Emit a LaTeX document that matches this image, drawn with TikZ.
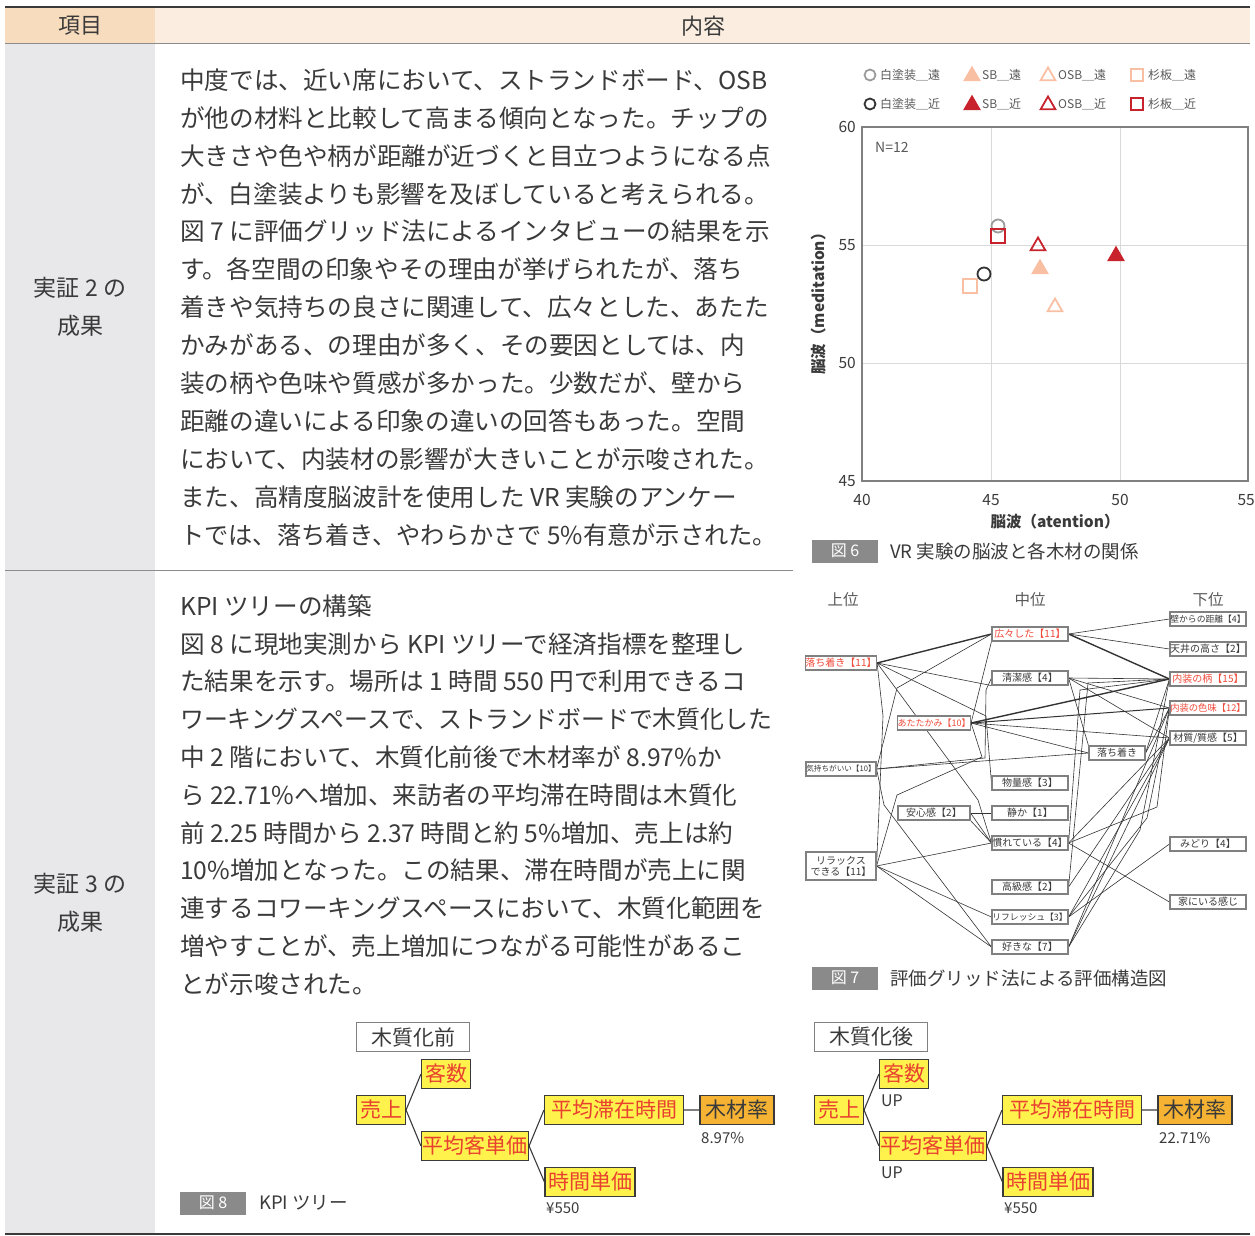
\documentclass[tikz,border=0pt]{standalone}
\usepackage{fontspec}
\setmainfont{Noto Sans CJK JP}
\usetikzlibrary{positioning, shapes.geometric, backgrounds}
\definecolor{headA}{HTML}{F8DCBE}
\definecolor{headB}{HTML}{FBEEE1}
\definecolor{sidegray}{HTML}{E8E8EA}
\definecolor{rulegray}{HTML}{8C8C8C}
\definecolor{textgray}{HTML}{3A3A3A}
\definecolor{leggray}{HTML}{595959}
\definecolor{capgray}{HTML}{8A8A8A}
\definecolor{gridgray}{HTML}{D9D9D9}
\definecolor{framegray}{HTML}{808080}
\definecolor{ptred}{HTML}{C8232C}
\definecolor{ptsalmon}{HTML}{F8BFA3}
\definecolor{ptgray}{HTML}{9B9B9B}
\definecolor{ptdark}{HTML}{333333}
\definecolor{hotred}{HTML}{F04A3A}
\definecolor{boxgray}{HTML}{808080}
\definecolor{kpiyellow}{HTML}{FFF24D}
\definecolor{kpired}{HTML}{E8412F}
\definecolor{kpiorange}{HTML}{F5B233}

\begin{document}
\begin{tikzpicture}[x=1pt, y=-1pt,
    bodyline/.style={anchor=west, inner sep=0, text=textgray, font=\fontsize{24.6}{30}\selectfont},
    rowlabel/.style={inner sep=0, text=textgray, font=\fontsize{23}{28}\selectfont},
    head/.style={inner sep=0, text=textgray, font=\fontsize{22}{26}\selectfont},
    figtag/.style={fill=capgray, text=white, minimum width=66, minimum height=23, inner sep=0, font=\fontsize{16}{18}\selectfont},
    figcap/.style={anchor=west, inner sep=0, text=textgray, font=\fontsize{18.5}{20}\selectfont},
    tick/.style={inner sep=0, text=textgray, font=\fontsize{15.5}{16}\selectfont},
    legtext/.style={anchor=west, inner sep=0, text=leggray, font=\fontsize{12}{13}\selectfont},
    ring/.style={circle, draw, line width=1.8, minimum size=11, inner sep=0},
    tri/.style={regular polygon, regular polygon sides=3, draw, line width=1.8, minimum size=17, inner sep=0},
    sq/.style={rectangle, draw, line width=1.8, minimum size=12, inner sep=0},
    level/.style={inner sep=0, text=leggray, font=\fontsize{15.5}{16}\selectfont},
    gbox/.style={draw=boxgray, line width=1.1, fill=white, minimum width=76, minimum height=14, inner sep=0, text=textgray, align=center, font=\fontsize{10}{11}\selectfont},
    hot/.style={text=hotred},
    link/.style={draw=ptdark, line width=0.6},
    kpi/.style={draw=textgray, line width=1.1, fill=kpiyellow, text=kpired, minimum width=#1, minimum height=29, inner sep=1, font=\fontsize{21}{22}\selectfont},
    rate/.style={kpi=#1, fill=kpiorange, text=textgray},
    tag/.style={draw=framegray, line width=1.1, fill=white, minimum width=113, minimum height=29, inner sep=0, text=textgray, font=\fontsize{21}{22}\selectfont},
    note/.style={anchor=west, inner sep=0, text=textgray, font=\fontsize{15}{16}\selectfont},
    branch/.style={draw=textgray, line width=1.1}
]
\useasboundingbox (0,0) rectangle (1255,1236);

% table frame
\fill[headA] (5,7) rectangle (155,44);
\fill[headB] (155,7) rectangle (1250,44);
\fill[sidegray] (5,44) rectangle (155,1234);
\draw[textgray, line width=1.2] (5,7) -- (1250,7);
\draw[rulegray, line width=1] (5,44) -- (1250,44);
\draw[rulegray, line width=1] (5,570) -- (793,570);
\draw[textgray, line width=1.2] (5,1234) -- (1250,1234);
\node[head] (hItem) at (80,26) {項目};
\node[head] (hBody) at (703,26) {内容};
\node[rowlabel] (r2a) at (80,288) {実証 2 の};
\node[rowlabel] (r2b) at (80,326) {成果};
\node[rowlabel] (r3a) at (80,884) {実証 3 の};
\node[rowlabel] (r3b) at (80,922) {成果};

% text of row 1
\foreach \t [count=\i] in {中度では、近い席において、ストランドボード、OSB,
    が他の材料と比較して高まる傾向となった。チップの,
    大きさや色や柄が距離が近づくと目立つようになる点,
    が、白塗装よりも影響を及ぼしていると考えられる。,
    図 7 に評価グリッド法によるインタビューの結果を示,
    す。各空間の印象やその理由が挙げられたが、落ち,
    着きや気持ちの良さに関連して、広々とした、あたた,
    かみがある、の理由が多く、その要因としては、内,
    装の柄や色味や質感が多かった。少数だが、壁から,
    距離の違いによる印象の違いの回答もあった。空間,
    において、内装材の影響が大きいことが示唆された。,
    また、高精度脳波計を使用した VR 実験のアンケー,
    \scalebox{0.985}[1]{トでは、落ち着き、やわらかさで 5\%有意が示された。}}
  \node[bodyline] (p1l\i) at (180,80+37.9*\i-37.9) {\t};

% text of row 2
\foreach \t [count=\i] in {KPI ツリーの構築,
    図 8 に現地実測から KPI ツリーで経済指標を整理し,
    た結果を示す。場所は 1 時間 550 円で利用できるコ,
    \scalebox{0.97}[1]{ワーキングスペースで、ストランドボードで木質化した},
    中 2 階において、木質化前後で木材率が 8.97\%か,
    ら 22.71\%へ増加、来訪者の平均滞在時間は木質化,
    前 2.25 時間から 2.37 時間と約 5\%増加、売上は約,
    10\%増加となった。この結果、滞在時間が売上に関,
    連するコワーキングスペースにおいて、木質化範囲を,
    増やすことが、売上増加につながる可能性があるこ,
    とが示唆された。}
  \node[bodyline] (p2l\i) at (180,606+37.8*\i-37.8) {\t};

% fig 6: scatter chart
\draw[gridgray, line width=1] (991,127) -- (991,481) (1120,127) -- (1120,481)
    (862,245) -- (1248,245) (862,363) -- (1248,363);
\draw[framegray, line width=1.4] (862,127) rectangle (1248,481);
\foreach \v/\y in {60/127, 55/245, 50/363, 45/481}
  \node[tick, anchor=east] (yt\v) at (856,\y) {\v};
\foreach \v/\x in {40/862, 45/991, 50/1120}
  \node[tick] (xt\v) at (\x,500) {\v};
\node[tick, anchor=east] (xt55) at (1255,500) {55};
\node[tick, font=\fontsize{15.5}{16}\selectfont\bfseries] (xTitle) at (1055,522) {脳波（atention）};
\node[tick, rotate=90, font=\fontsize{15.5}{16}\selectfont\bfseries] (yTitle) at (819,300) {脳波（meditation）};
\node[legtext, font=\fontsize{14}{15}\selectfont] (nCount) at (875,147) {N=12};

% legend
\node[ring, draw=ptgray] (lgWF) at (870,75) {};
\node[legtext] at (880,75) {白塗装＿遠};
\node[tri, fill=ptsalmon, draw=ptsalmon] (lgSF) at (972,76) {};
\node[legtext] at (982,75) {SB＿遠};
\node[tri, draw=ptsalmon] (lgOF) at (1048,76) {};
\node[legtext] at (1058,75) {OSB＿遠};
\node[sq, draw=ptsalmon] (lgCF) at (1137,75) {};
\node[legtext] at (1148,75) {杉板＿遠};
\node[ring, draw=ptdark] (lgWN) at (870,104) {};
\node[legtext] at (880,104) {白塗装＿近};
\node[tri, fill=ptred, draw=ptred] (lgSN) at (972,105) {};
\node[legtext] at (982,104) {SB＿近};
\node[tri, draw=ptred] (lgON) at (1048,105) {};
\node[legtext] at (1058,104) {OSB＿近};
\node[sq, draw=ptred] (lgCN) at (1137,104) {};
\node[legtext] at (1148,104) {杉板＿近};

% data points
\node[ring, minimum size=13, draw=ptgray] (wFar) at (998,226) {};
\node[sq, minimum size=14, draw=ptred] (cNear) at (998,236) {};
\node[ring, minimum size=13, draw=ptdark] (wNear) at (984,274) {};
\node[sq, minimum size=14, draw=ptsalmon] (cFar) at (970,286) {};
\node[tri, draw=ptred] (oNear) at (1038,246) {};
\node[tri, fill=ptsalmon, draw=ptsalmon] (sFar) at (1040,269) {};
\node[tri, draw=ptsalmon] (oFar) at (1055,307) {};
\node[tri, fill=ptred, draw=ptred] (sNear) at (1116,256) {};

\node[figtag] (tag6) at (845,551) {図 6};
\node[figcap] (cap6) at (890,551) {VR 実験の脳波と各木材の関係};

% fig 7: evaluation grid
\node[level] (lvTop) at (843,600) {上位};
\node[level] (lvMid) at (1030,600) {中位};
\node[level] (lvLow) at (1208,600) {下位};

\node[gbox, hot, minimum width=70] (ochiA) at (841,663) {落ち着き【11】};
\node[gbox, minimum width=70, font=\fontsize{7.6}{8}\selectfont] (kimochi) at (841,769) {気持ちがいい【10】};
\node[gbox, minimum width=70, minimum height=28] (relax) at (841,866) {リラックス\\できる【11】};
\node[gbox, hot, minimum width=72, font=\fontsize{9}{10}\selectfont] (atata) at (934,723) {あたたかみ【10】};
\node[gbox, minimum width=72] (anshin) at (934,813) {安心感【2】};

\node[gbox, hot] (hiro) at (1030,634) {広々した【11】};
\node[gbox] (seiketsu) at (1030,678) {清潔感【4】};
\node[gbox] (butsuryo) at (1030,783) {物量感【3】};
\node[gbox] (shizuka) at (1030,813) {静か【1】};
\node[gbox] (nare) at (1030,843) {慣れている【4】};
\node[gbox] (kokyu) at (1030,887) {高級感【2】};
\node[gbox, font=\fontsize{8.8}{9}\selectfont] (refresh) at (1030,917) {リフレッシュ【3】};
\node[gbox] (suki) at (1030,947) {好きな【7】};
\node[gbox, minimum width=56] (ochiB) at (1117,753) {落ち着き};

\node[gbox, font=\fontsize{8.8}{9}\selectfont] (kabe) at (1208,619) {壁からの距離【4】};
\node[gbox] (tenjo) at (1208,649) {天井の高さ【2】};
\node[gbox, hot] (gara) at (1208,679) {内装の柄【15】};
\node[gbox, hot, font=\fontsize{9.3}{10}\selectfont] (iromi) at (1208,708) {内装の色味【12】};
\node[gbox] (shitsu) at (1208,738) {材質/質感【5】};
\node[gbox] (midori) at (1208,844) {みどり【4】};
\node[gbox] (ie) at (1208,902) {家にいる感じ};

\begin{scope}[on background layer]
\draw[link, line width=1.4] (ochiA.east) -- (hiro.west);
\draw[link] (ochiA.east) -- (seiketsu.south west);
\draw[link] (ochiA.east) -- (986,716) -- (butsuryo.west);
\draw[link] (ochiA.east) -- (978,800) -- (nare.west);
\draw[link] (ochiA.east) -- (883,716) -- (relax.east);
\draw[link] (kimochi.east) -- (897,688) -- (hiro.west);
\draw[link] (kimochi.east) -- (985,758) -- (986,690) -- (seiketsu.west);
\draw[link] (kimochi.east) -- (884,805) -- (suki.west);
\draw[link] (kimochi.east) -- (ochiB.west);
\draw[link] (relax.east) -- (897,795) -- (982,757) -- (atata.east);
\draw[link] (relax.east) -- (nare.west);
\draw[link] (relax.east) -- (refresh.west);
\draw[link] (relax.east) -- (suki.west);
\draw[link] (anshin.east) -- (shizuka.west);
\draw[link] (anshin.east) -- (nare.west);
\draw[link] (anshin.south east) -- (nare.west);
\draw[link, line width=1.4] (atata.east) -- (gara.west);
\draw[link, line width=1] (atata.east) -- (iromi.west);
\draw[link] (atata.east) -- (shitsu.west);
\draw[link] (atata.east) -- (ochiB.west);
\draw[link] (atata.east) -- (hiro.south west);
\draw[link, line width=1.4] (hiro.east) -- (gara.west);
\draw[link] (hiro.east) -- (kabe.west);
\draw[link] (hiro.east) -- (tenjo.west);
\draw[link] (seiketsu.east) -- (gara.west);
\draw[link] (seiketsu.east) -- (iromi.west);
\draw[link] (seiketsu.east) -- (shitsu.west);
\draw[link] (seiketsu.east) -- (ochiB.north west);
\draw[link] (nare.east) -- (shitsu.west);
\draw[link] (nare.east) -- (1157,807) -- (iromi.west);
\draw[link] (nare.east) -- (ie.west);
\draw[link] (nare.east) -- (1080,690) -- (gara.west);
\draw[link] (kokyu.east) -- (1088,683) -- (gara.west);
\draw[link] (kokyu.east) -- (shitsu.west);
\draw[link] (refresh.east) -- (midori.west);
\draw[link] (refresh.east) -- (shitsu.west);
\draw[link] (refresh.east) -- (1147,818) -- (iromi.west);
\draw[link] (suki.east) -- (shitsu.west);
\draw[link] (suki.east) -- (1140,830) -- (gara.west);
\draw[link] (suki.east) -- (iromi.west);
\draw[link] (ochiB.east) -- (gara.west);
\draw[link] (ochiB.east) -- (iromi.west);
\end{scope}

\node[figtag] (tag7) at (845,978) {図 7};
\node[figcap] (cap7) at (890,978) {評価グリッド法による評価構造図};

% fig 8: KPI trees, before
\node[tag] (preTag) at (413,1037) {木質化前};
\node[kpi=49] (preSales) at (381,1110) {売上};
\node[kpi=49] (preGuests) at (446,1074) {客数};
\node[kpi=107] (preSpend) at (475,1146) {平均客単価};
\node[kpi=139] (preStay) at (614,1110) {平均滞在時間};
\node[rate=74] (preWood) at (737,1110) {木材率};
\node[kpi=90] (preHour) at (590,1182) {時間単価};
\node[note] (preRate) at (701,1138) {8.97\%};
\node[note] (prePrice) at (546,1208) {¥550};
\draw[branch] (preSales.east) -- (preGuests.west);
\draw[branch] (preSales.east) -- (preSpend.west);
\draw[branch] (preSpend.east) -- (preStay.west);
\draw[branch] (preSpend.east) -- (preHour.west);
\draw[branch, draw=framegray] (preStay.east) -- (preWood.west);

% fig 8: KPI trees, after
\node[tag] (postTag) at (871,1037) {木質化後};
\node[kpi=49] (postSales) at (839,1110) {売上};
\node[kpi=49] (postGuests) at (904,1074) {客数};
\node[kpi=107] (postSpend) at (933,1146) {平均客単価};
\node[kpi=139] (postStay) at (1072,1110) {平均滞在時間};
\node[rate=74] (postWood) at (1195,1110) {木材率};
\node[kpi=90] (postHour) at (1048,1182) {時間単価};
\node[note, font=\fontsize{16}{17}\selectfont] (postUp1) at (881,1101) {UP};
\node[note, font=\fontsize{16}{17}\selectfont] (postUp2) at (881,1173) {UP};
\node[note] (postRate) at (1159,1138) {22.71\%};
\node[note] (postPrice) at (1004,1208) {¥550};
\draw[branch] (postSales.east) -- (postGuests.west);
\draw[branch] (postSales.east) -- (postSpend.west);
\draw[branch] (postSpend.east) -- (postStay.west);
\draw[branch] (postSpend.east) -- (postHour.west);
\draw[branch, draw=framegray] (postStay.east) -- (postWood.west);

\node[figtag] (tag8) at (213,1203) {図 8};
\node[figcap] (cap8) at (259,1203) {KPI ツリー};
\end{tikzpicture}
\end{document}
